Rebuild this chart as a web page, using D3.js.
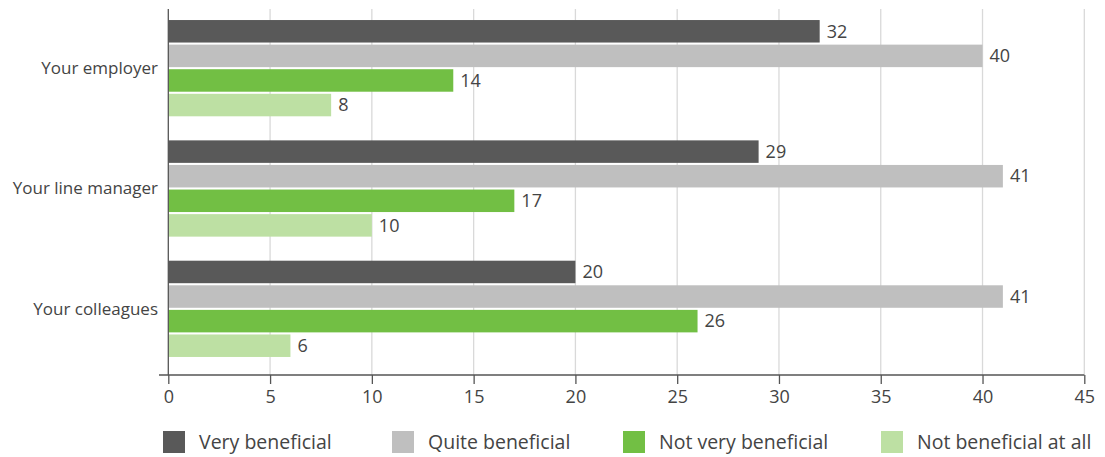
<!DOCTYPE html>
<html>
<head>
<meta charset="utf-8">
<script src="https://cdn.jsdelivr.net/npm/d3@7"></script>
<style>
  html, body { margin: 0; padding: 0; background: #fff; }
  svg { display: block; font-family: "Open Sans", "DejaVu Sans", sans-serif; }
</style>
</head>
<body>
<svg id="chart" width="1105" height="457"></svg>
<script>
// Who benefits: share of respondents (%) per rating, by source
const categories = ["Your employer", "Your line manager", "Your colleagues"];
const seriesNames = ["Very beneficial", "Quite beneficial", "Not very beneficial", "Not beneficial at all"];
const veryBeneficial = [32, 29, 20];
const quiteBeneficial = [40, 41, 41];
const notVeryBeneficial = [14, 17, 26];
const notBeneficialAtAll = [8, 10, 6];
const xTicks = [0, 5, 10, 15, 20, 25, 30, 35, 40, 45];
const colors = ["#595959", "#bfbfbf", "#72bf44", "#bde0a3"];

const seriesValues = [veryBeneficial, quiteBeneficial, notVeryBeneficial, notBeneficialAtAll];
const rows = categories.map((c, i) => ({
  category: c,
  values: seriesNames.map((s, j) => ({ series: s, value: seriesValues[j][i] }))
}));

const svg = d3.select("#chart");
const plotTop = 9, plotBottom = 375;

const x = d3.scaleLinear().domain([0, 45]).range([168.3, 1084.3]);
const y0 = d3.scaleBand().domain(categories).range([8, 369])
  .paddingInner(0.2).paddingOuter(0.1);
const y1 = d3.scaleBand().domain(seriesNames).range([0, y0.bandwidth()])
  .paddingInner(0.085);
const color = d3.scaleOrdinal().domain(seriesNames).range(colors);

// vertical gridlines
svg.append("g").selectAll("line").data(xTicks.slice(1)).join("line")
  .attr("x1", d => x(d)).attr("x2", d => x(d))
  .attr("y1", plotTop).attr("y2", plotBottom)
  .attr("stroke", "#d9d9d9").attr("stroke-width", 1.3);

// bars
const groups = svg.append("g").selectAll("g").data(rows).join("g")
  .attr("transform", d => `translate(0,${y0(d.category)})`);

groups.selectAll("rect").data(d => d.values).join("rect")
  .attr("x", x(0))
  .attr("y", d => y1(d.series))
  .attr("width", d => x(d.value) - x(0))
  .attr("height", y1.bandwidth())
  .attr("fill", d => color(d.series));

groups.selectAll("text").data(d => d.values).join("text")
  .attr("x", d => x(d.value) + 7)
  .attr("y", d => y1(d.series) + y1.bandwidth() / 2)
  .attr("dy", "0.35em")
  .attr("font-size", 18)
  .attr("fill", "#444")
  .text(d => d.value);

// x axis
const xAxis = svg.append("g")
  .attr("transform", `translate(0,${plotBottom})`)
  .call(d3.axisBottom(x).tickValues(xTicks).tickSize(9).tickPadding(6).tickSizeOuter(0));
xAxis.select(".domain").remove();
xAxis.append("line").attr("x1", 159).attr("x2", x(45)).attr("y1", 0).attr("y2", 0)
  .attr("stroke", "#555").attr("stroke-width", 1.3);
xAxis.selectAll(".tick line").attr("stroke", "#555").attr("stroke-width", 1.3);
xAxis.selectAll(".tick text").attr("font-size", 18).attr("fill", "#444")
  .attr("font-family", "\"Open Sans\", sans-serif");

// y axis line
svg.append("line").attr("x1", x(0)).attr("x2", x(0))
  .attr("y1", plotTop).attr("y2", plotBottom)
  .attr("stroke", "#555").attr("stroke-width", 1.3);

// category labels
svg.append("g").selectAll("text").data(categories).join("text")
  .attr("x", 158)
  .attr("y", d => y0(d) + y0.bandwidth() / 2)
  .attr("dy", "0.35em")
  .attr("text-anchor", "end")
  .attr("font-size", 17)
  .attr("fill", "#444")
  .text(d => d);

// legend
const legendX = [163, 392, 623, 881];
const legend = svg.append("g").selectAll("g").data(seriesNames).join("g")
  .attr("transform", (d, i) => `translate(${legendX[i]},431)`);
legend.append("rect").attr("width", 22).attr("height", 22).attr("fill", d => color(d));
legend.append("text").attr("x", 36).attr("y", 11).attr("dy", "0.35em")
  .attr("font-size", 19.5).attr("fill", "#444").text(d => d);
</script>
</body>
</html>
